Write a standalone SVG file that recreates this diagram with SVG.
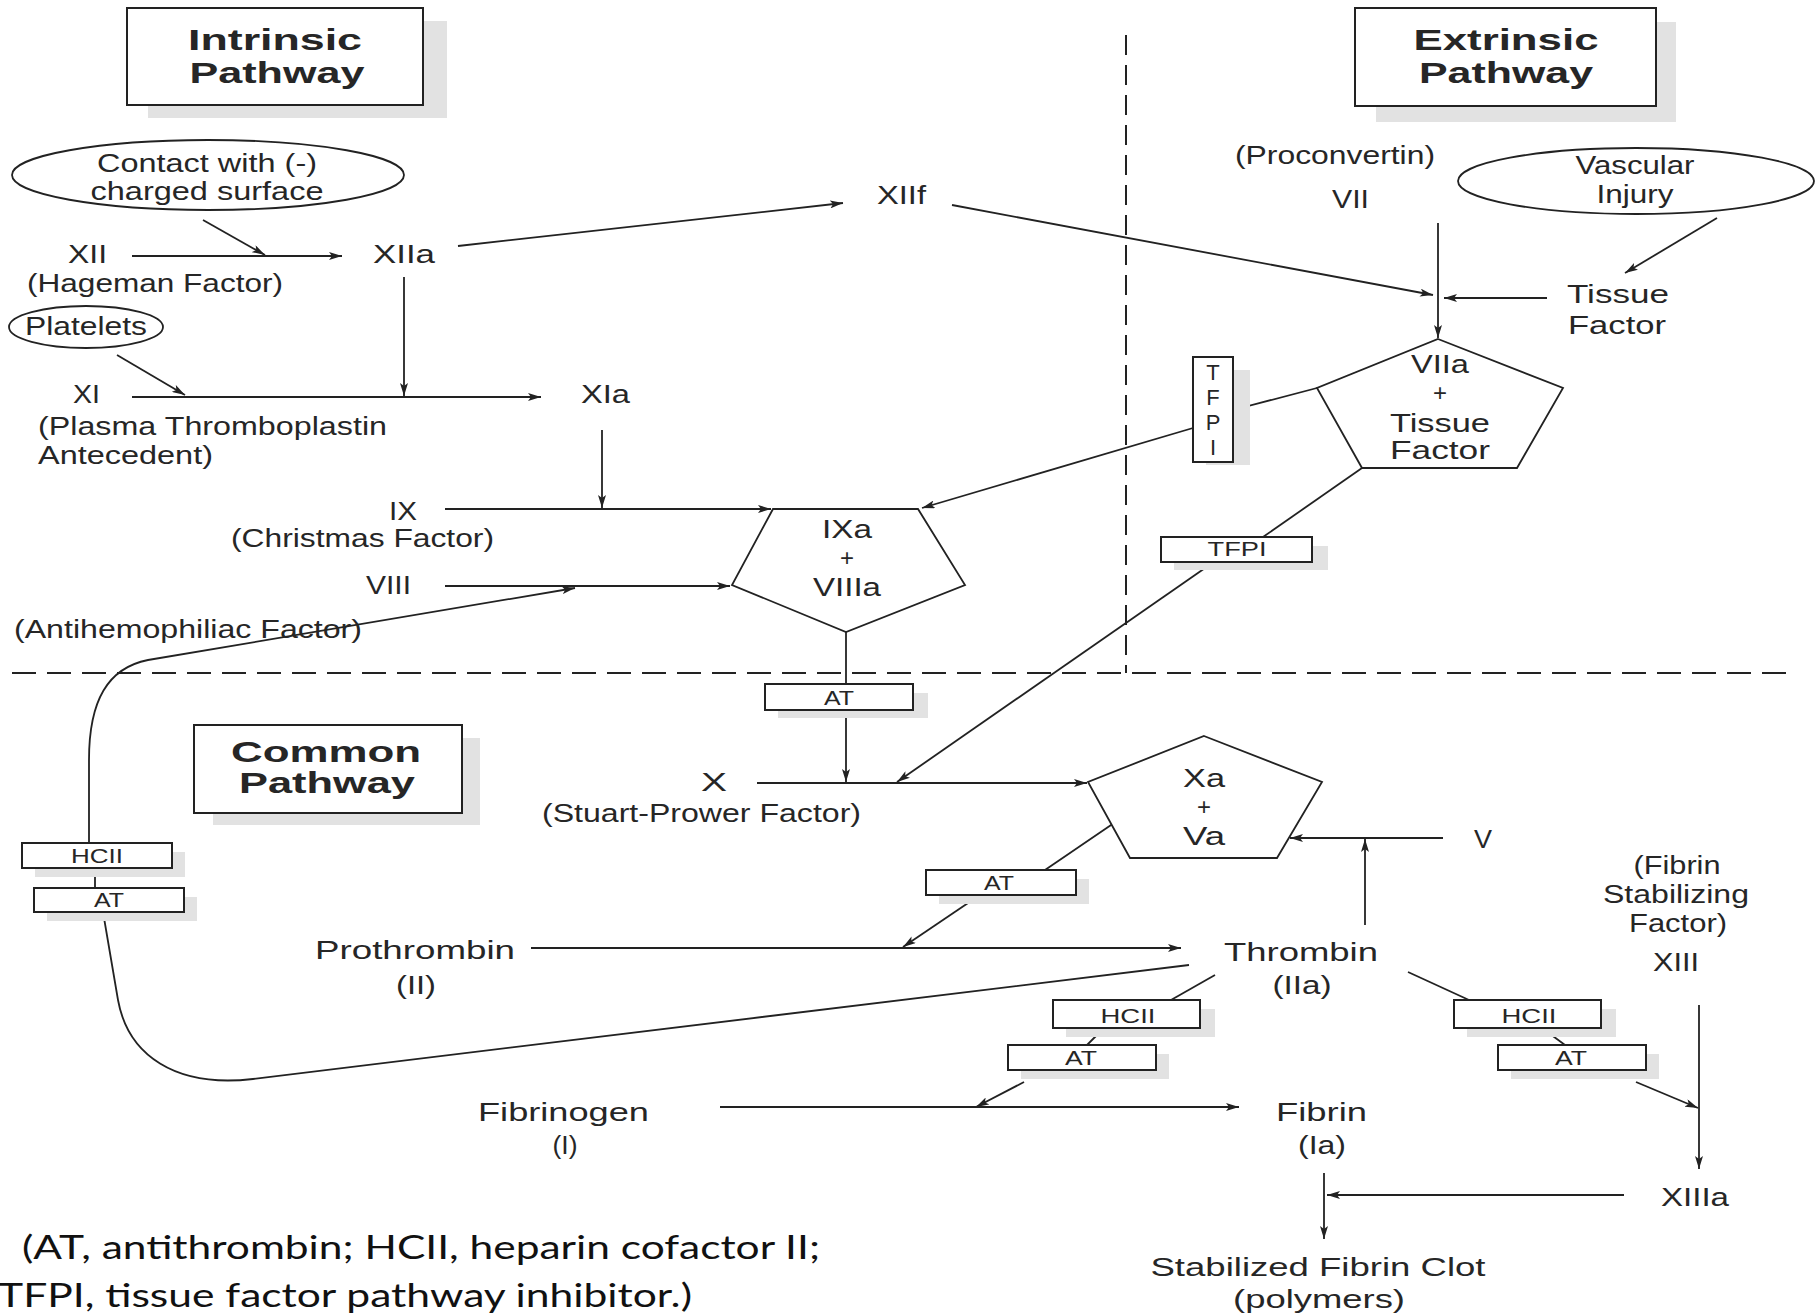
<svg xmlns="http://www.w3.org/2000/svg" width="1815" height="1314" viewBox="0 0 1815 1314">
  <style>
    .lbl { font-family: "Liberation Sans", Arial, sans-serif; font-size: 26px; fill: #262626; }
    .ttl { font-family: "Liberation Sans", Arial, sans-serif; font-size: 30px; font-weight: bold; fill: #262626; }
    .sm { font-family: "Liberation Sans", Arial, sans-serif; font-size: 21px; fill: #262626; }
    .vt { font-family: "Liberation Sans", Arial, sans-serif; font-size: 22px; fill: #262626; }
    .plus { font-family: "Liberation Sans", Arial, sans-serif; font-size: 24px; fill: #262626; }
    .note { font-family: Lato, "Liberation Sans", sans-serif; font-size: 32px; fill: #111; }
    .mid { text-anchor: middle; }
    .box { fill: #fff; stroke: #222; stroke-width: 2; }
    .shadow { fill: #e2e2e2; }
    .shape { fill: #fff; stroke: #222; stroke-width: 1.8; }
    .ln { fill: none; stroke: #222; stroke-width: 1.8; }
    .arw { marker-end: url(#ah); }
    .sep { fill: none; stroke: #222; stroke-width: 2; }
  </style>
  <defs>
    <marker id="ah" viewBox="0 0 13 8" refX="13" refY="4" markerWidth="13" markerHeight="8" markerUnits="userSpaceOnUse" orient="auto">
      <path d="M0,0 L13,4 L0,8 L3,4 z" fill="#222"/>
    </marker>
  </defs>

  <rect width="1815" height="1314" fill="#fff"/>

  <!-- pathway separators -->
  <g id="separators">
    <line class="sep" x1="1126" y1="35" x2="1126" y2="673" stroke-dasharray="20 10"/>
    <line class="sep" x1="12" y1="673" x2="1794" y2="673" stroke-dasharray="24 11"/>
  </g>

  <!-- title boxes -->
  <g id="title-intrinsic">
    <rect class="shadow" x="148" y="21" width="299" height="97"/>
    <rect class="box" x="127" y="8" width="296" height="97"/>
    <text class="ttl mid" x="275" y="50" textLength="174" lengthAdjust="spacingAndGlyphs">Intrinsic</text>
    <text class="ttl mid" x="277" y="83" textLength="175" lengthAdjust="spacingAndGlyphs">Pathway</text>
  </g>
  <g id="title-extrinsic">
    <rect class="shadow" x="1376" y="22" width="300" height="100"/>
    <rect class="box" x="1355" y="8" width="301" height="98"/>
    <text class="ttl mid" x="1506" y="50" textLength="185" lengthAdjust="spacingAndGlyphs">Extrinsic</text>
    <text class="ttl mid" x="1506" y="83" textLength="174" lengthAdjust="spacingAndGlyphs">Pathway</text>
  </g>
  <g id="title-common">
    <rect class="shadow" x="213" y="738" width="267" height="87"/>
    <rect class="box" x="194" y="725" width="268" height="88"/>
    <text class="ttl mid" x="326" y="762" textLength="190" lengthAdjust="spacingAndGlyphs">Common</text>
    <text class="ttl mid" x="327" y="793" textLength="176" lengthAdjust="spacingAndGlyphs">Pathway</text>
  </g>

  <!-- connectors -->
  <g id="connectors">
    <line class="ln arw" x1="203" y1="220" x2="265" y2="255"/>
    <line class="ln arw" x1="132" y1="256" x2="342" y2="256"/>
    <line class="ln arw" x1="458" y1="246" x2="843" y2="203"/>
    <line class="ln arw" x1="952" y1="205" x2="1433" y2="295"/>
    <line class="ln arw" x1="404" y1="277" x2="404" y2="396"/>
    <line class="ln arw" x1="117" y1="355" x2="185" y2="395"/>
    <line class="ln arw" x1="132" y1="397" x2="541" y2="397"/>
    <line class="ln arw" x1="602" y1="430" x2="602" y2="508"/>
    <line class="ln arw" x1="445" y1="509" x2="771" y2="509"/>
    <line class="ln arw" x1="445" y1="586" x2="730" y2="586"/>
    <path class="ln arw" d="M89,843 V760 C89,700 108,668 148,660 L575,588"/>
    <line class="ln" x1="95" y1="868" x2="95" y2="888"/>
    <path class="ln" d="M103,912 L118,1000 C128,1055 175,1088 253,1079 L1189,965"/>
    <line class="ln" x1="846" y1="632" x2="846" y2="684"/>
    <line class="ln arw" x1="846" y1="710" x2="846" y2="782"/>
    <line class="ln arw" x1="757" y1="783" x2="1087" y2="783"/>
    <line class="ln arw" x1="1438" y1="223" x2="1438" y2="338"/>
    <line class="ln arw" x1="1547" y1="298" x2="1444" y2="298"/>
    <line class="ln arw" x1="1717" y1="218" x2="1625" y2="273"/>
    <line class="ln" x1="1317" y1="388" x2="1233" y2="410"/>
    <line class="ln arw" x1="1193" y1="428" x2="922" y2="508"/>
    <line class="ln" x1="1362" y1="468" x2="1263" y2="537"/>
    <line class="ln arw" x1="1208" y1="566" x2="897" y2="782"/>
    <line class="ln" x1="1114" y1="823" x2="1045" y2="870"/>
    <line class="ln arw" x1="974" y1="899" x2="903" y2="947"/>
    <line class="ln arw" x1="1443" y1="838" x2="1290" y2="838"/>
    <line class="ln arw" x1="1365" y1="925" x2="1365" y2="839"/>
    <line class="ln arw" x1="531" y1="948" x2="1181" y2="948"/>
    <line class="ln" x1="1215" y1="975" x2="1171" y2="1000"/>
    <line class="ln" x1="1104" y1="1028" x2="1087" y2="1045"/>
    <line class="ln arw" x1="1024" y1="1082" x2="976" y2="1107"/>
    <line class="ln arw" x1="720" y1="1107" x2="1239" y2="1107"/>
    <line class="ln" x1="1408" y1="972" x2="1469" y2="1000"/>
    <line class="ln" x1="1542" y1="1028" x2="1565" y2="1045"/>
    <line class="ln arw" x1="1636" y1="1082" x2="1698" y2="1108"/>
    <line class="ln arw" x1="1699" y1="1005" x2="1699" y2="1169"/>
    <line class="ln arw" x1="1624" y1="1195" x2="1327" y2="1195"/>
    <line class="ln arw" x1="1324" y1="1173" x2="1324" y2="1239"/>
  </g>

  <!-- intrinsic pathway -->
  <g id="node-contact">
    <ellipse class="shape" cx="208" cy="175" rx="196" ry="35"/>
    <text class="lbl mid" x="207" y="172" textLength="220" lengthAdjust="spacingAndGlyphs">Contact with (-)</text>
    <text class="lbl mid" x="207" y="200" textLength="233" lengthAdjust="spacingAndGlyphs">charged surface</text>
  </g>
  <g id="node-xii">
    <text class="lbl" x="68" y="263" textLength="39" lengthAdjust="spacingAndGlyphs">XII</text>
    <text class="lbl" x="27" y="292" textLength="256" lengthAdjust="spacingAndGlyphs">(Hageman Factor)</text>
  </g>
  <g id="node-xiia">
    <text class="lbl" x="373" y="263" textLength="62" lengthAdjust="spacingAndGlyphs">XIIa</text>
  </g>
  <g id="node-xiif">
    <text class="lbl" x="877" y="204" textLength="49" lengthAdjust="spacingAndGlyphs">XIIf</text>
  </g>
  <g id="node-platelets">
    <ellipse class="shape" cx="86" cy="327" rx="77" ry="21"/>
    <text class="lbl mid" x="86" y="335" textLength="122" lengthAdjust="spacingAndGlyphs">Platelets</text>
  </g>
  <g id="node-xi">
    <text class="lbl" x="73" y="403" textLength="27" lengthAdjust="spacingAndGlyphs">XI</text>
    <text class="lbl" x="38" y="435" textLength="349" lengthAdjust="spacingAndGlyphs">(Plasma Thromboplastin</text>
    <text class="lbl" x="38" y="464" textLength="175" lengthAdjust="spacingAndGlyphs">Antecedent)</text>
  </g>
  <g id="node-xia">
    <text class="lbl" x="581" y="403" textLength="49" lengthAdjust="spacingAndGlyphs">XIa</text>
  </g>
  <g id="node-ix">
    <text class="lbl" x="389" y="520" textLength="28" lengthAdjust="spacingAndGlyphs">IX</text>
    <text class="lbl" x="231" y="547" textLength="263" lengthAdjust="spacingAndGlyphs">(Christmas Factor)</text>
  </g>
  <g id="node-viii">
    <text class="lbl" x="366" y="594" textLength="45" lengthAdjust="spacingAndGlyphs">VIII</text>
    <text class="lbl" x="14" y="638" textLength="348" lengthAdjust="spacingAndGlyphs">(Antihemophiliac Factor)</text>
  </g>
  <g id="node-ixa-viiia">
    <polygon class="shape" points="773,509 918,509 965,585 846,632 732,585"/>
    <text class="lbl mid" x="847" y="538" textLength="50" lengthAdjust="spacingAndGlyphs">IXa</text>
    <text class="plus mid" x="847" y="566">+</text>
    <text class="lbl mid" x="847" y="596" textLength="68" lengthAdjust="spacingAndGlyphs">VIIIa</text>
  </g>
  <g id="inhibitor-at-ixa">
    <rect class="shadow" x="778" y="693" width="150" height="25"/>
    <rect class="box" x="765" y="684" width="148" height="26"/>
    <text class="sm mid" x="839" y="705" textLength="30" lengthAdjust="spacingAndGlyphs">AT</text>
  </g>
  <g id="inhibitor-hcii-at-left">
    <rect class="shadow" x="35" y="852" width="150" height="25"/>
    <rect class="box" x="22" y="843" width="150" height="25"/>
    <text class="sm mid" x="97" y="863" textLength="52" lengthAdjust="spacingAndGlyphs">HCII</text>
    <rect class="shadow" x="47" y="897" width="150" height="24"/>
    <rect class="box" x="34" y="888" width="150" height="24"/>
    <text class="sm mid" x="109" y="907" textLength="30" lengthAdjust="spacingAndGlyphs">AT</text>
  </g>

  <!-- extrinsic pathway -->
  <g id="node-vii">
    <text class="lbl" x="1235" y="164" textLength="200" lengthAdjust="spacingAndGlyphs">(Proconvertin)</text>
    <text class="lbl" x="1332" y="208" textLength="37" lengthAdjust="spacingAndGlyphs">VII</text>
  </g>
  <g id="node-vascular-injury">
    <ellipse class="shape" cx="1636" cy="181" rx="178" ry="33"/>
    <text class="lbl mid" x="1635" y="174" font-size="25" textLength="119" lengthAdjust="spacingAndGlyphs">Vascular</text>
    <text class="lbl mid" x="1635" y="203" font-size="25" textLength="77" lengthAdjust="spacingAndGlyphs">Injury</text>
  </g>
  <g id="node-tissue-factor">
    <text class="lbl" x="1567" y="303" textLength="102" lengthAdjust="spacingAndGlyphs">Tissue</text>
    <text class="lbl" x="1568" y="334" textLength="98" lengthAdjust="spacingAndGlyphs">Factor</text>
  </g>
  <g id="node-viia-tf">
    <polygon class="shape" points="1438,339 1563,388 1517,468 1362,468 1317,388"/>
    <text class="lbl mid" x="1440" y="373" textLength="58" lengthAdjust="spacingAndGlyphs">VIIa</text>
    <text class="plus mid" x="1440" y="401">+</text>
    <text class="lbl mid" x="1440" y="432" textLength="100" lengthAdjust="spacingAndGlyphs">Tissue</text>
    <text class="lbl mid" x="1440" y="459" textLength="100" lengthAdjust="spacingAndGlyphs">Factor</text>
  </g>
  <g id="inhibitor-tfpi-vertical">
    <rect class="shadow" x="1206" y="370" width="44" height="95"/>
    <rect class="box" x="1193" y="357" width="40" height="105"/>
    <text class="vt mid" x="1213" y="380">T</text>
    <text class="vt mid" x="1213" y="405">F</text>
    <text class="vt mid" x="1213" y="430">P</text>
    <text class="vt mid" x="1213" y="455">I</text>
  </g>
  <g id="inhibitor-tfpi-horizontal">
    <rect class="shadow" x="1174" y="546" width="154" height="24"/>
    <rect class="box" x="1161" y="537" width="151" height="25"/>
    <text class="sm mid" x="1237" y="556" textLength="59" lengthAdjust="spacingAndGlyphs">TFPI</text>
  </g>

  <!-- common pathway -->
  <g id="node-x">
    <text class="lbl" x="701" y="791" textLength="26" lengthAdjust="spacingAndGlyphs">X</text>
    <text class="lbl" x="542" y="822" textLength="319" lengthAdjust="spacingAndGlyphs">(Stuart-Prower Factor)</text>
  </g>
  <g id="node-xa-va">
    <polygon class="shape" points="1204,736 1322,782 1277,858 1130,858 1088,782"/>
    <text class="lbl mid" x="1204" y="787" textLength="42" lengthAdjust="spacingAndGlyphs">Xa</text>
    <text class="plus mid" x="1204" y="815">+</text>
    <text class="lbl mid" x="1204" y="845" textLength="42" lengthAdjust="spacingAndGlyphs">Va</text>
  </g>
  <g id="node-v">
    <text class="lbl" x="1474" y="848" textLength="18" lengthAdjust="spacingAndGlyphs">V</text>
  </g>
  <g id="inhibitor-at-xa">
    <rect class="shadow" x="939" y="879" width="150" height="25"/>
    <rect class="box" x="926" y="870" width="150" height="25"/>
    <text class="sm mid" x="999" y="890" textLength="30" lengthAdjust="spacingAndGlyphs">AT</text>
  </g>
  <g id="node-prothrombin">
    <text class="lbl" x="315" y="959" textLength="200" lengthAdjust="spacingAndGlyphs">Prothrombin</text>
    <text class="lbl mid" x="416" y="994" textLength="40" lengthAdjust="spacingAndGlyphs">(II)</text>
  </g>
  <g id="node-thrombin">
    <text class="lbl" x="1224" y="961" textLength="154" lengthAdjust="spacingAndGlyphs">Thrombin</text>
    <text class="lbl mid" x="1302" y="994" textLength="59" lengthAdjust="spacingAndGlyphs">(IIa)</text>
  </g>
  <g id="node-xiii">
    <text class="lbl mid" x="1677" y="874" textLength="87" lengthAdjust="spacingAndGlyphs">(Fibrin</text>
    <text class="lbl mid" x="1676" y="903" textLength="146" lengthAdjust="spacingAndGlyphs">Stabilizing</text>
    <text class="lbl mid" x="1678" y="932" textLength="98" lengthAdjust="spacingAndGlyphs">Factor)</text>
    <text class="lbl" x="1653" y="971" textLength="46" lengthAdjust="spacingAndGlyphs">XIII</text>
  </g>
  <g id="inhibitor-hcii-at-mid">
    <rect class="shadow" x="1066" y="1009" width="149" height="28"/>
    <rect class="box" x="1053" y="1000" width="147" height="28"/>
    <text class="sm mid" x="1128" y="1023" textLength="55" lengthAdjust="spacingAndGlyphs">HCII</text>
    <rect class="shadow" x="1021" y="1054" width="148" height="25"/>
    <rect class="box" x="1008" y="1045" width="148" height="25"/>
    <text class="sm mid" x="1081" y="1065" textLength="32" lengthAdjust="spacingAndGlyphs">AT</text>
  </g>
  <g id="inhibitor-hcii-at-right">
    <rect class="shadow" x="1467" y="1009" width="149" height="28"/>
    <rect class="box" x="1454" y="1000" width="147" height="28"/>
    <text class="sm mid" x="1529" y="1023" textLength="55" lengthAdjust="spacingAndGlyphs">HCII</text>
    <rect class="shadow" x="1511" y="1054" width="148" height="25"/>
    <rect class="box" x="1498" y="1045" width="148" height="25"/>
    <text class="sm mid" x="1571" y="1065" textLength="32" lengthAdjust="spacingAndGlyphs">AT</text>
  </g>
  <g id="node-fibrinogen">
    <text class="lbl" x="478" y="1121" textLength="171" lengthAdjust="spacingAndGlyphs">Fibrinogen</text>
    <text class="lbl mid" x="565" y="1154" textLength="25" lengthAdjust="spacingAndGlyphs">(I)</text>
  </g>
  <g id="node-fibrin">
    <text class="lbl" x="1276" y="1121" textLength="91" lengthAdjust="spacingAndGlyphs">Fibrin</text>
    <text class="lbl mid" x="1322" y="1154" textLength="48" lengthAdjust="spacingAndGlyphs">(Ia)</text>
  </g>
  <g id="node-xiiia">
    <text class="lbl" x="1661" y="1206" textLength="68" lengthAdjust="spacingAndGlyphs">XIIIa</text>
  </g>
  <g id="node-clot">
    <text class="lbl mid" x="1318" y="1276" textLength="335" lengthAdjust="spacingAndGlyphs">Stabilized Fibrin Clot</text>
    <text class="lbl mid" x="1319" y="1308" textLength="172" lengthAdjust="spacingAndGlyphs">(polymers)</text>
  </g>

  <!-- abbreviations -->
  <g id="legend">
    <text class="note" x="22" y="1259" textLength="798" lengthAdjust="spacingAndGlyphs">(AT, antithrombin; HCII, heparin cofactor II;</text>
    <text class="note" x="-2" y="1307" textLength="694" lengthAdjust="spacingAndGlyphs">TFPI, tissue factor pathway inhibitor.)</text>
  </g>
</svg>
